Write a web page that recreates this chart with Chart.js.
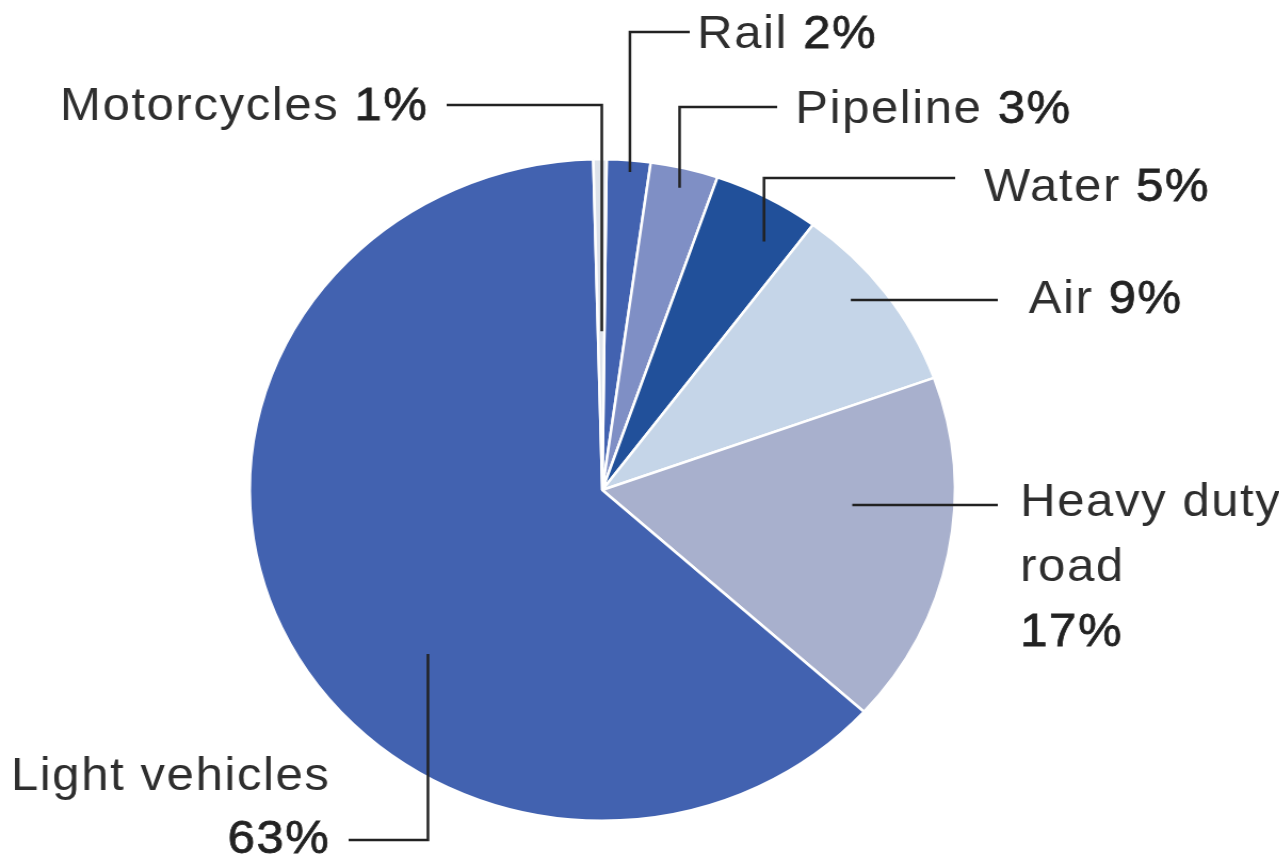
<!DOCTYPE html>
<html>
<head>
<meta charset="utf-8">
<script src="https://cdn.jsdelivr.net/npm/chart.js@4"></script>
<style>
  html, body { margin: 0; padding: 0; background: #fff; overflow: hidden; }
  /* the reference is slightly stretched horizontally */
  #wrap { width: 1200px; height: 865px; transform: scaleX(1.066); transform-origin: 0 0; }
</style>
</head>
<body>
<div id="wrap"><canvas id="chart"></canvas></div>
<script>
// Data (clockwise from 12 o'clock)
const categories = ['Rail', 'Pipeline', 'Water', 'Air', 'Heavy duty road', 'Light vehicles', 'Motorcycles'];
// slice sizes; the printed labels are rounded
const shares = [2.0, 3.1, 4.9, 9.3, 17.2, 62.9, 0.6];
const pctLabels = ['2%', '3%', '5%', '9%', '17%', '63%', '1%'];
const sliceColors = ['#4262b0', '#7f8fc5', '#21509a', '#c5d5e8', '#a8b0cd', '#4262b0', '#dde2ea'];
const labelLines = [
  ['Rail'], ['Pipeline'], ['Water'], ['Air'],
  ['Heavy duty', 'road'], ['Light vehicles'], ['Motorcycles']
];

// Callout layout: t = position inside the slice, f = fraction of the radius
const callouts = [
  { t: 0.55, f: 0.965, kind: 'v', lineY: 32,  endX: 647, tx: 654, ty: 35,  align: 'left' },
  { t: 0.50, f: 0.94,  kind: 'v', lineY: 107, endX: 729, tx: 746, ty: 110, align: 'left' },
  { t: 0.70, f: 0.88,  kind: 'v', lineY: 178, endX: 896, tx: 923, ty: 188, align: 'left' },
  { t: 0.42, f: 0.91,  kind: 'h', lineY: 300, endX: 936, tx: 965, ty: 300, align: 'left' },
  { t: 0.37, f: 0.71,  kind: 'h', lineY: 505, endX: 936, tx: 957, ty: 503, align: 'left', stack: true },
  { t: 0.41, f: 0.70,  kind: 'v', lineY: 840, endX: 327, tx: 310, ty: 777, align: 'right', stack: true },
  { t: 0.60, f: 0.48,  kind: 'v', lineY: 105, endX: 419, tx: 402, ty: 107, align: 'right' }
];

const FONT = '46px "Liberation Sans", Arial, sans-serif';
const LINE_GAP = 65;

// percentages are a touch heavier than the names
function drawPct(ctx, text, x, y) {
  ctx.fillStyle = '#222';
  ctx.strokeStyle = '#222';
  ctx.lineWidth = 0.8;
  ctx.fillText(text, x, y);
  ctx.strokeText(text, x, y);
}

const calloutPlugin = {
  id: 'callouts',
  afterDraw(chart) {
    const ctx = chart.ctx;
    const arcs = chart.getDatasetMeta(0).data;
    ctx.save();
    ctx.textBaseline = 'middle';
    ctx.font = FONT;
    ctx.letterSpacing = '1.5px';

    callouts.forEach((c, i) => {
      const arc = arcs[i];
      const a = arc.startAngle + c.t * (arc.endAngle - arc.startAngle);
      const px = arc.x + c.f * arc.outerRadius * Math.cos(a);
      const py = arc.y + c.f * arc.outerRadius * Math.sin(a);

      // leader line
      ctx.strokeStyle = '#222';
      ctx.lineWidth = 2.5;
      ctx.beginPath();
      if (c.kind === 'v') {
        ctx.moveTo(px, py);
        ctx.lineTo(px, c.lineY);
        ctx.lineTo(c.endX, c.lineY);
      } else {
        ctx.moveTo(px, c.lineY);
        ctx.lineTo(c.endX, c.lineY);
      }
      ctx.stroke();

      // label text
      const pct = pctLabels[i];
      const names = labelLines[i];

      if (c.stack) {
        ctx.textAlign = c.align;
        ctx.fillStyle = '#2e2e2e';
        names.forEach((n, k) => ctx.fillText(n, c.tx, c.ty + k * LINE_GAP));
        const py2 = c.kind === 'v' ? c.lineY : c.ty + names.length * LINE_GAP;
        drawPct(ctx, pct, c.tx, py2);
      } else {
        ctx.textAlign = 'left';
        const nameText = names[0] + ' ';
        const w1 = ctx.measureText(nameText).width;
        const w2 = ctx.measureText(pct).width;
        const x0 = c.align === 'right' ? c.tx - (w1 + w2) : c.tx;
        ctx.fillStyle = '#2e2e2e';
        ctx.fillText(nameText, x0, c.ty);
        drawPct(ctx, pct, x0 + w1, c.ty);
      }
    });
    ctx.restore();
  }
};

new Chart(document.getElementById('chart'), {
  type: 'pie',
  data: {
    labels: categories,
    datasets: [{
      data: shares,
      backgroundColor: sliceColors,
      borderColor: '#ffffff',
      borderWidth: 2.5
    }]
  },
  options: {
    responsive: true,
    maintainAspectRatio: false,
    animation: false,
    rotation: 0.7,
    layout: { padding: { top: 158, bottom: 43, left: 233, right: 303 } },
    plugins: {
      legend: { display: false },
      tooltip: { enabled: false }
    }
  },
  plugins: [calloutPlugin]
});
</script>
</body>
</html>
